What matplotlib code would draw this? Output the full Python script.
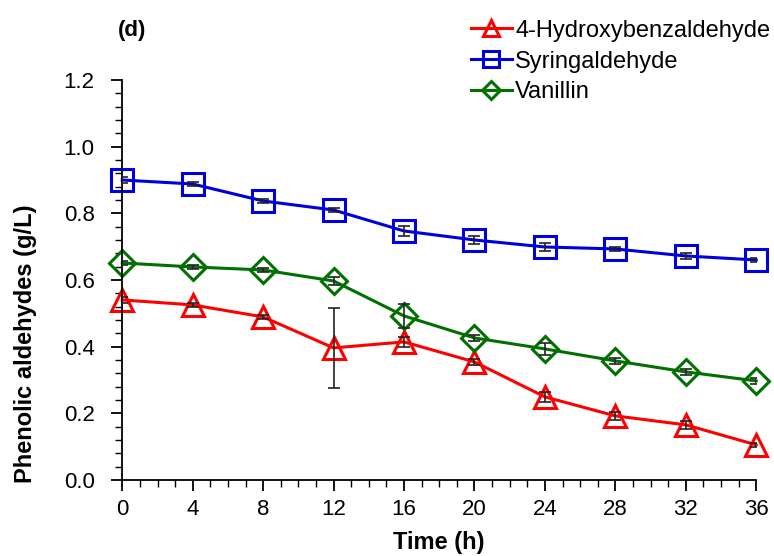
import matplotlib
matplotlib.use("Agg")
from matplotlib import pyplot as plt
from matplotlib.ticker import MultipleLocator

plt.rcParams['font.family'] = ['Liberation Sans', 'DejaVu Sans']

# time points (h)
time = [0, 4, 8, 12, 16, 20, 24, 28, 32, 36]

# concentrations (g/L)
hba = [0.54, 0.525, 0.489, 0.396, 0.414, 0.354, 0.249, 0.192, 0.165, 0.105]
hba_err = [0.01, 0.005, 0.005, 0.12, 0.015, 0.01, 0.015, 0.012, 0.012, 0.005]
syr = [0.90, 0.888, 0.837, 0.81, 0.747, 0.72, 0.699, 0.693, 0.672, 0.66]
syr_err = [0.01, 0.005, 0.005, 0.005, 0.015, 0.012, 0.012, 0.005, 0.008, 0.005]
van = [0.651, 0.639, 0.63, 0.597, 0.492, 0.426, 0.393, 0.357, 0.324, 0.297]
van_err = [0.005, 0.005, 0.005, 0.012, 0.036, 0.008, 0.018, 0.008, 0.008, 0.01]

fig = plt.figure(figsize=(7.74, 5.56), dpi=100)
ax = fig.add_axes([0.158, 0.137, 0.819, 0.719])

series = [
    ("4-Hydroxybenzaldehyde", hba, hba_err, "#ff0000", "^"),
    ("Syringaldehyde", syr, syr_err, "#0000dd", "s"),
    ("Vanillin", van, van_err, "#007000", "D"),
]
for name, y, err, col, mk in series:
    ms = 16 if mk != "D" else 13
    ax.plot(time, y, color=col, lw=2.2, marker=mk, markersize=ms,
            markerfacecolor="none", markeredgewidth=2.2, label=name,
            zorder=2, clip_on=False)
    ax.errorbar(time, y, yerr=err, fmt="none", ecolor="#222222",
                elinewidth=1.2, capsize=4, capthick=1.2, zorder=3)

ax.set_xlim(0, 36)
ax.set_ylim(0, 1.2)
ax.xaxis.set_major_locator(MultipleLocator(4))
ax.xaxis.set_minor_locator(MultipleLocator(1))
ax.yaxis.set_major_locator(MultipleLocator(0.2))
ax.yaxis.set_minor_locator(MultipleLocator(0.04))
ax.yaxis.set_major_formatter(plt.FormatStrFormatter("%.1f"))
ax.tick_params(which="major", length=8, width=1.3, labelsize=16)
ax.tick_params(which="minor", length=5, width=1.0)
ax.tick_params(axis="y", which="major", pad=12)
ax.tick_params(axis="x", which="major", pad=6)
for s in ["top", "right"]:
    ax.spines[s].set_visible(False)
for s in ["left", "bottom"]:
    ax.spines[s].set_linewidth(1.3)

ax.set_xlabel("Time (h)", fontsize=17, fontweight="bold", labelpad=8)
ax.set_ylabel("Phenolic aldehydes (g/L)", fontsize=17, fontweight="bold")
ax.yaxis.set_label_coords(-0.135, 0.34)

fig.text(0.152, 0.945, "(d)", fontsize=16, fontweight="bold", ha="left", va="center")

ax.legend(loc="upper right", bbox_to_anchor=(1.037, 1.175), frameon=False,
          fontsize=17, handlelength=1.7, handletextpad=0.15, labelspacing=0.38,
          markerscale=0.7, borderaxespad=0.0)

fig.savefig("out.png", dpi=100)
